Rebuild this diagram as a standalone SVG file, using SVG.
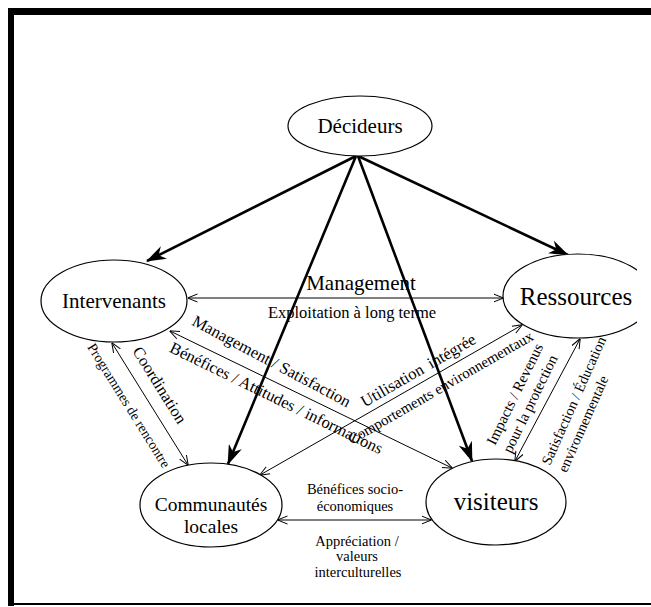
<svg xmlns="http://www.w3.org/2000/svg" width="651" height="607" viewBox="0 0 651 607">
<defs>
<style>
text{font-family:"Liberation Serif","Times New Roman",serif;fill:#000}
.node ellipse{fill:#fff;stroke:#000;stroke-width:1.2}
.thick{stroke:#000;stroke-width:2.6;fill:none}
.thin{stroke:#000;stroke-width:1;fill:none}
.lbl{font-size:16.5px}
.sm{font-size:15px}
.bt{font-size:14.5px;text-anchor:middle}
</style>
<marker id="big" viewBox="0 0 20 14" refX="19" refY="7" markerWidth="20" markerHeight="14" markerUnits="userSpaceOnUse" orient="auto">
<path d="M0,0 L20,7 L0,14 L6,7 Z" fill="#000"/>
</marker>
<marker id="open" viewBox="0 0 10 10" refX="9.5" refY="5" markerWidth="10" markerHeight="10" markerUnits="userSpaceOnUse" orient="auto-start-reverse">
<path d="M0,1 L10,5 L0,9" fill="none" stroke="#000" stroke-width="1"/>
</marker>
<clipPath id="clipR"><rect x="0" y="0" width="637" height="607"/></clipPath>
</defs>
<rect width="651" height="607" fill="#fff"/>
<g id="frame">
<rect x="8" y="8" width="643" height="7" fill="#000"/>
<rect x="8" y="8" width="6" height="598" fill="#000"/>
<rect x="8" y="603" width="643" height="2" fill="#000"/>
</g>
<g id="connectors">
<line class="thick" x1="356" y1="156" x2="147" y2="261" marker-end="url(#big)"/>
<line class="thick" x1="358" y1="156" x2="568" y2="255" marker-end="url(#big)"/>
<line class="thick" x1="356" y1="156" x2="228" y2="464" marker-end="url(#big)"/>
<line class="thick" x1="358" y1="156" x2="472" y2="461" marker-end="url(#big)"/>
<line class="thin" x1="188" y1="298" x2="503" y2="298" marker-start="url(#open)" marker-end="url(#open)"/>
<line class="thin" x1="170" y1="331" x2="452" y2="468" marker-start="url(#open)" marker-end="url(#open)"/>
<line class="thin" x1="260" y1="475" x2="522" y2="325" marker-start="url(#open)" marker-end="url(#open)"/>
<line class="thin" x1="112" y1="343" x2="188" y2="465" marker-start="url(#open)" marker-end="url(#open)"/>
<line class="thin" x1="580" y1="339" x2="515" y2="461" marker-start="url(#open)" marker-end="url(#open)"/>
<line class="thin" x1="278" y1="520" x2="431" y2="520" marker-start="url(#open)" marker-end="url(#open)"/>
</g>
<g id="labels">
<text x="361" y="290" style="font-size:21px" text-anchor="middle">Management</text>
<text x="352" y="318" style="font-size:16.5px" text-anchor="middle">Exploitation à long terme</text>
<text class="lbl" transform="translate(269,366) rotate(28)" text-anchor="middle">Management / Satisfaction</text>
<text class="lbl" transform="translate(274,403) rotate(26)" text-anchor="middle">Bénéfices / Attitudes / informations</text>
<text class="lbl" transform="translate(421,375) rotate(-30)" text-anchor="middle">Utilisation<tspan dx="7">intégrée</tspan></text>
<text class="sm" transform="translate(443,392) rotate(-30)" text-anchor="middle">Comportements environnementaux</text>
<text class="lbl" transform="translate(155,388) rotate(58)" text-anchor="middle">Coordination</text>
<text style="font-size:14px" transform="translate(125,408) rotate(58)" text-anchor="middle">Programmes de rencontre</text>
<text class="sm" transform="translate(495,446) rotate(-64)"><tspan x="0" y="0">Impacts / Revenus</tspan><tspan x="0" y="18">pour la protection</tspan></text>
<text style="font-size:14.5px" transform="translate(550,466) rotate(-66)"><tspan x="0" y="0">Satisfaction / Éducation</tspan><tspan x="0" y="18">environnementale</tspan></text>
<text class="bt" x="355" y="494">Bénéfices socio-</text>
<text class="bt" x="355" y="511">économiques</text>
<text class="bt" x="357" y="546">Appréciation /</text>
<text class="bt" x="357" y="561">valeurs</text>
<text class="bt" x="358" y="577">interculturelles</text>
</g>
<g id="decideurs" class="node">
<ellipse cx="360" cy="126" rx="72" ry="30"/>
<text x="360" y="133" style="font-size:21px" text-anchor="middle">Décideurs</text>
</g>
<g id="intervenants" class="node">
<ellipse cx="114" cy="301" rx="73" ry="41"/>
<text x="114" y="308" style="font-size:21px" text-anchor="middle">Intervenants</text>
</g>
<g id="ressources" class="node" clip-path="url(#clipR)">
<ellipse cx="578" cy="296" rx="75" ry="42"/>
<text x="576" y="305" style="font-size:25px" text-anchor="middle">Ressources</text>
</g>
<g id="communautes" class="node">
<ellipse cx="211" cy="505" rx="71" ry="42"/>
<text x="211" y="511" style="font-size:19.5px" text-anchor="middle">Communautés</text>
<text x="211" y="533" style="font-size:19.5px" text-anchor="middle">locales</text>
</g>
<g id="visiteurs" class="node">
<ellipse cx="496" cy="502" rx="70" ry="43"/>
<text x="496" y="510" style="font-size:25px" text-anchor="middle">visiteurs</text>
</g>
</svg>
